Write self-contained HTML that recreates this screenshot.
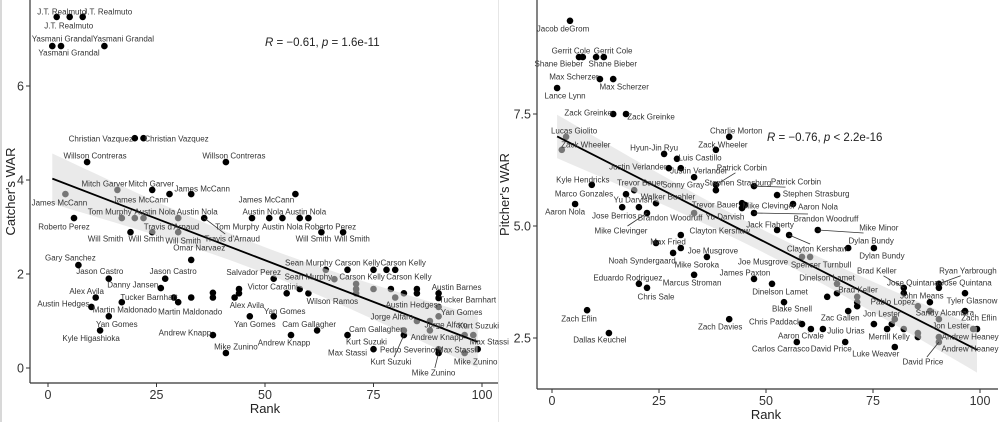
<!DOCTYPE html>
<html><head><meta charset="utf-8">
<style>
html,body{margin:0;padding:0;background:#fff;}
svg{display:block;font-family:"Liberation Sans",sans-serif;}
.lbl{font-size:8px;fill:#333;text-anchor:middle;dominant-baseline:central;}
.tick{font-size:12.5px;fill:#333;}
.ttl{font-size:13px;fill:#222;}
</style></head>
<body>
<svg id="chart" width="1000" height="422" viewBox="0 0 1000 422" xmlns="http://www.w3.org/2000/svg">
<rect x="0" y="0" width="1000" height="422" fill="#fff"/>
<line x1="1" y1="0" x2="1" y2="422" stroke="#d8d8d8" stroke-width="2"/>
<line x1="498.5" y1="0" x2="498.5" y2="422" stroke="#e6e6e6" stroke-width="1"/>
</svg>
<script>
// ---- Catcher panel data ----
const catcherRanks = [2,5,8,1,3,13,20,22,9,41,16,24,28,33,4,57,6,17,20,22,30,36,47,51,54,58,60,19,24,30,63,68,33,7,14,27,26,11,29,17,30,33,38,38,10,14,12,38,41,43,44,44,46.5,64,69,75,78,80,66,71,71,71,75,79,82,85,85,80,52,58,60,55,52,62,56,69,75,82,82,90,90,90,90,85,88,88,90,90,96,98,96,99];
const catcherWar = [7.47,7.47,7.47,6.85,6.85,6.85,4.89,4.89,4.38,4.38,3.79,3.79,3.70,3.70,3.70,3.70,3.19,3.19,3.19,3.19,3.19,3.19,3.19,3.19,3.19,3.19,3.19,2.89,2.89,2.89,2.89,2.89,2.30,2.19,1.90,1.90,1.70,1.50,1.50,1.40,1.40,1.50,1.60,1.50,1.30,1.10,0.80,0.70,0.32,1.50,1.68,1.59,1.10,2.09,2.09,2.09,2.09,2.09,1.89,1.79,1.68,1.59,1.68,1.68,1.59,1.68,1.59,1.50,1.90,1.68,1.59,1.59,1.10,0.80,0.70,0.70,0.40,0.80,0.70,1.59,1.49,1.30,1.10,1.00,1.00,0.80,0.40,0.32,0.70,0.70,0.32,0.40];
const catcherNames = ["J.T. Realmuto","J.T. Realmuto","J.T. Realmuto","Yasmani Grandal","Yasmani Grandal","Yasmani Grandal","Christian Vazquez","Christian Vazquez","Willson Contreras","Willson Contreras","Mitch Garver","Mitch Garver","James McCann","James McCann","James McCann","James McCann","Roberto Perez","Tom Murphy","Austin Nola","Travis d'Arnaud","Austin Nola","Travis d'Arnaud","Austin Nola","Tom Murphy","Austin Nola","Austin Nola","Roberto Perez","Will Smith","Will Smith","Will Smith","Will Smith","Will Smith","Omar Narvaez","Gary Sanchez","Jason Castro","Jason Castro","Danny Jansen","Alex Avila","Tucker Barnhart","Martin Maldonado","Martin Maldonado","","","","Austin Hedges","Yan Gomes","Kyle Higashioka","Andrew Knapp","Mike Zunino","","","Alex Avila","Yan Gomes","Sean Murphy","Carson Kelly","","","Carson Kelly","Sean Murphy","Carson Kelly","","","","Carson Kelly","","","","","Salvador Perez","Victor Caratini","Wilson Ramos","","Yan Gomes","Cam Gallagher","Andrew Knapp","Kurt Suzuki","Max Stassi","Cam Gallagher","Kurt Suzuki","Austin Barnes","Tucker Barnhart","Austin Hedges","Yan Gomes","Jorge Alfaro","Jorge Alfaro","Andrew Knapp","Pedro Severino","Mike Zunino","Kurt Suzuki","Max Stassi","Max Stassi","Mike Zunino"];
const catcherLabelDx = [5,-1,25,10,8,19,-34,33,8,8,-13,-1,-29,11,-6,-29,-10,-12,20,28,19,28,11,-32,0,6,22,-25,-6,5,-8,9,8,-8,-9,8,-28,-9,-25,3,12,0,0,0,-28,8,-9,-28,10,0,0,8,5,-17,10,0,0,8,-26,6,0,0,0,18,0,0,0,0,-20,-27,24,0,11,-8,-7,19,-26,-28,-13,18,29,-27,23,-25,16,7,-31,-5,14,16,-8,-2];
const catcherLabelDy = [-5,9,-5,-7,7,-7,1,1,-6,-6,-6,-6,6,-5,9,6,9,-6,-6,9,-6,21,-6,9,9,-6,9,7,7,9,7,7,-12,-7,-7,-7,-3,-6,0,8,10,0,0,0,-3,8,8,-2,-6,0,0,12,8,-7,-7,0,0,-7,-2,-7,0,0,0,-12,0,0,0,0,-6,-2,8,0,-5,-6,8,7,4,-1,27,-6,2,-2,-4,-4,4,7,1,20,-9,7,-3,13];
const catcherLeaders = [21,78,87];

// ---- Pitcher panel data ----
const pitcherRanks = [4.2,6.3,7.2,10.3,12.1,11.2,14.3,1.2,14.3,17.3,3.3,2.3,41.4,38.3,26.2,29.2,27.3,30.1,33.2,9.3,19.2,17.3,38.3,38.3,24.3,5.4,16.4,20.3,22.2,33.2,44.4,44.4,30.1,24.3,30.1,28.3,36.2,33.2,20.3,22.2,8.2,13.3,41.4,47.2,52.6,45.1,56.3,47.2,62.1,52.6,55.4,69.2,75.2,58.4,60.3,47.2,51.4,66.6,66.6,64.3,71.3,71.3,71.3,82.2,82.2,90.4,90.4,96.5,88.3,85.5,88.3,96.5,54.2,69.2,80.1,90.4,58.4,75.2,79.4,60.5,63.3,78.3,82.2,85.5,85.5,98.4,99.3,90.4,90.4,57.2,68.5,80.1];
const pitcherWar = [9.58,8.77,8.77,8.77,8.77,8.28,8.28,8.08,7.50,7.50,6.99,6.70,6.99,6.70,6.61,6.50,6.29,6.29,6.09,5.92,5.80,5.71,5.92,5.80,5.51,5.49,5.42,5.42,5.29,5.29,5.51,5.40,4.80,4.62,4.51,4.40,4.31,3.91,3.71,3.62,3.12,2.61,2.92,5.89,5.69,5.47,5.49,5.29,4.91,4.91,4.80,4.51,4.51,4.31,4.31,3.82,3.71,3.71,3.50,3.42,3.42,3.30,3.21,3.62,3.50,3.71,3.62,3.50,3.30,3.21,3.10,3.10,3.30,3.10,2.92,2.92,2.81,2.81,2.81,2.70,2.70,2.70,2.70,2.61,2.52,2.70,2.70,2.52,2.41,2.41,2.41,2.30];
const pitcherNames = ["Jacob deGrom","Gerrit Cole","Shane Bieber","Gerrit Cole","Shane Bieber","Max Scherzer","Max Scherzer","Lance Lynn","Zack Greinke","Zack Greinke","Lucas Giolito","Zack Wheeler","Charlie Morton","Zack Wheeler","Hyun-Jin Ryu","Luis Castillo","Justin Verlander","Justin Verlander","Sonny Gray","Kyle Hendricks","Trevor Bauer","Marco Gonzales","Patrick Corbin","Stephen Strasburg","Walker Buehler","Aaron Nola","Jose Berrios","Yu Darvish","Mike Clevinger","Brandon Woodruff","Trevor Bauer","Yu Darvish","Clayton Kershaw","Max Fried","Mike Soroka","Noah Syndergaard","Joe Musgrove","Marcus Stroman","Eduardo Rodriguez","Chris Sale","Zach Eflin","Dallas Keuchel","Zach Davies","Patrick Corbin","Stephen Strasburg","Mike Clevinger","Aaron Nola","Brandon Woodruff","Mike Minor","Jack Flaherty","Clayton Kershaw","Dylan Bundy","Dylan Bundy","Joe Musgrove","Spencer Turnbull","James Paxton","Dinelson Lamet","Dinelson Lamet","Brad Keller","","","","","Brad Keller","Jose Quintana","Ryan Yarbrough","Jose Quintana","Tyler Glasnow","John Means","Pablo Lopez","Sandy Alcantara","Zach Eflin","Blake Snell","Zac Gallen","Jon Lester","Jon Lester","Chris Paddack","","","Aaron Civale","Julio Urias","Merrill Kelly","","","","Andrew Heaney","Andrew Heaney","","David Price","Carlos Carrasco","David Price","Luke Weaver"];
const pitcherLabelDx = [-7,-8,-24,17,9,-26,11,8,-25,25,8,24,7,7,-10,23,-31,18,-11,-9,6,-42,26,22,12,-10,-8,-6,-26,-24,-27,-17,39,12,16,-31,6,-2,-11,9,-8,-9,-9,42,39,24,25,72,61,-7,28,23,8,-39,11,-9,8,-10,21,0,0,0,0,-27,9,29,27,7,-8,-25,15,14,8,-8,-13,12,-27,0,0,-10,23,2,0,0,0,-3,-7,0,-16,-16,-14,-19];
const pitcherLabelDy = [8,-6,7,-6,7,-2,8,8,-1,3,-6,-5,-6,-5,-6,-1,-1,3,8,-5,-7,0,-17,-7,-6,8,9,-7,18,5,2,9,-4,-1,17,8,-6,8,-6,9,9,7,8,-4,-1,1,3,6,-2,-5,14,-7,8,5,8,-6,8,-6,-3,0,0,0,0,-17,-10,-13,-5,8,-6,-4,2,7,7,7,-5,7,-2,0,0,7,2,8,0,0,0,8,20,0,20,7,7,7];
const pitcherLeaders = [22,28,43,47,48,50,63,65,88];

const NS = "http://www.w3.org/2000/svg";
const svg = document.getElementById("chart");
function mk(tag, attrs, parent){
  const e = document.createElementNS(NS, tag);
  for (const k in attrs) e.setAttribute(k, attrs[k]);
  (parent||svg).appendChild(e);
  return e;
}

function drawPanel(cfg, ranks, wars, names, ldx, ldy, leaders){
  const g = mk("g", {});
  
  
  const xs = r => cfg.x0 + (r - 0) * cfg.xk;
  const ys = w => cfg.y0 - (w - cfg.yBase) * cfg.yk;

  const n = ranks.length;
  let mx = 0, my = 0;
  for (let i=0;i<n;i++){ mx += ranks[i]; my += wars[i]; }
  mx /= n; my /= n;
  let sxx = 0, sxy = 0;
  for (let i=0;i<n;i++){ sxx += (ranks[i]-mx)**2; sxy += (ranks[i]-mx)*(wars[i]-my); }
  const b = sxy / sxx, a = my - b*mx;
  let sse = 0;
  for (let i=0;i<n;i++){ sse += (wars[i]-a-b*ranks[i])**2; }
  const s = Math.sqrt(sse/(n-2));
  const rmin = Math.min(...ranks), rmax = Math.max(...ranks);
  const up = [], lo = [];
  for (let k=0;k<=40;k++){
    const r = rmin + (rmax-rmin)*k/40;
    const se = s*Math.sqrt(1/n + (r-mx)**2/sxx) * 1.985;
    const f = a + b*r;
    up.push(xs(r).toFixed(1)+","+ys(f+se).toFixed(1));
    lo.unshift(xs(r).toFixed(1)+","+ys(f-se).toFixed(1));
  }

  for (let i=0;i<n;i++){
    const c = mk("circle", {cx:xs(ranks[i]).toFixed(1), cy:ys(wars[i]).toFixed(1), r:3.3, fill:"#000"}, g);
    
    
  }
  const band = mk("polygon", {points: up.concat(lo).join(" "), fill:"#d9d9d9", "fill-opacity":"0.55"}, g);
  
  
  const ln = mk("line", {x1:xs(rmin), y1:ys(a+b*rmin), x2:xs(rmax), y2:ys(a+b*rmax), stroke:"#000", "stroke-width":1.8}, g);
  
  

  for (let i=0;i<n;i++){
    if (!names[i]) continue;
    const px = xs(ranks[i]), py = ys(wars[i]);
    if (leaders.indexOf(i) >= 0){
      const lx = px + ldx[i]*0.75, ly = py + ldy[i] - Math.sign(ldy[i]||1)*5;
      mk("line", {x1:px, y1:py, x2:lx, y2:ly, stroke:"#333", "stroke-width":0.8}, g);
    }
    const t = mk("text", {x:(px+ldx[i]).toFixed(1), y:(py+ldy[i]).toFixed(1), class:"lbl"}, g);
    
    
    t.textContent = names[i];
  }

  const ax = mk("line", {x1:cfg.axX, y1:0, x2:cfg.axX, y2:cfg.axY, stroke:"#333", "stroke-width":1.2}, g);
  
  
  const axh = mk("line", {x1:cfg.axX, y1:cfg.axY, x2:cfg.right, y2:cfg.axY, stroke:"#333", "stroke-width":1.2}, g);
  
  
  cfg.yTicks.forEach((v, k) => {
    const y = ys(v);
    mk("line", {x1:cfg.axX-4, y1:y, x2:cfg.axX, y2:y, stroke:"#333"}, g);
    const t = mk("text", {x:cfg.axX-6, y:y+4.5, class:"tick", "text-anchor":"end"}, g);
    
    
    t.textContent = cfg.yTickLabels[k];
  });
  cfg.xTicks.forEach(v => {
    const x = xs(v);
    mk("line", {x1:x, y1:cfg.axY, x2:x, y2:cfg.axY+4, stroke:"#333"}, g);
    const t = mk("text", {x:x, y:cfg.axY+16, class:"tick", "text-anchor":"middle"}, g);
    
    
    t.textContent = v;
  });
  const xt = mk("text", {x:(xs(0)+xs(100))/2, y:cfg.axY+30, class:"ttl", "text-anchor":"middle"}, g);
  
  
  xt.textContent = "Rank";
  const yt = mk("text", {x:0, y:0, class:"ttl", "text-anchor":"middle", transform:`translate(${cfg.axX-cfg.ytOff},${cfg.axY/2}) rotate(-90)`}, g);
  
  
  yt.textContent = cfg.yTitle;
  const st = mk("text", {x:cfg.statX, y:cfg.statY, "font-size":"11.5px", fill:"#222"}, g);
  
  
  st.innerHTML = '<tspan font-style="italic">R</tspan> = \u22120.' + cfg.rval + ', <tspan font-style="italic">p</tspan> ' + cfg.pval;
}

drawPanel({name:"catcher-panel", x0:48, xk:4.34, y0:368, yBase:0, yk:47, axX:30, axY:383, right:498,
  yTicks:[0,2,4,6], yTickLabels:["0","2","4","6"], xTicks:[0,25,50,75,100], yTitle:"Catcher's WAR", ytOff:15,
  statX:265, statY:46, rval:"61", pval:"= 1.6e-11"},
  catcherRanks, catcherWar, catcherNames, catcherLabelDx, catcherLabelDy, catcherLeaders);

drawPanel({name:"pitcher-panel", x0:552, xk:4.28, y0:226, yBase:5, yk:44.8, axX:537, axY:389, right:998,
  yTicks:[2.5,5,7.5], yTickLabels:["2.5","5.0","7.5"], xTicks:[0,25,50,75,100], yTitle:"Pitcher's WAR", ytOff:28,
  statX:767, statY:141, rval:"76", pval:"< 2.2e-16"},
  pitcherRanks, pitcherWar, pitcherNames, pitcherLabelDx, pitcherLabelDy, pitcherLeaders);
</script>
</body></html>
